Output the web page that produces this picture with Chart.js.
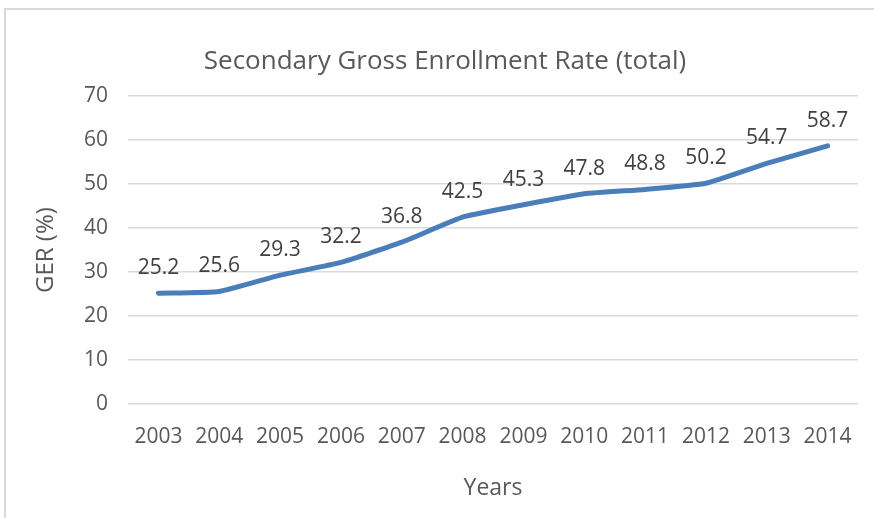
<!DOCTYPE html>
<html>
<head>
<meta charset="utf-8">
<script src="https://cdn.jsdelivr.net/npm/chart.js@4"></script>
<style>
    html, body { margin: 0; padding: 0; background: #fff; }
    #frame {
        position: absolute;
        left: 0; top: 0;
        width: 874px; height: 518px;
    }
    #box {
        position: absolute;
        left: 4px; top: 8px;
        width: 880px; height: 520px;
        border-left: 2px solid #d9d9d9;
        border-top: 2px solid #d9d9d9;
    }
    canvas { position: absolute; left: 0; top: 0; }
</style>
</head>
<body>
<div id="frame">
    <div id="box"></div>
    <canvas id="gerChart" width="874" height="518"></canvas>
</div>
<script>
const years = ['2003', '2004', '2005', '2006', '2007', '2008', '2009', '2010', '2011', '2012', '2013', '2014'];
const gerTotal = [25.2, 25.6, 29.3, 32.2, 36.8, 42.5, 45.3, 47.8, 48.8, 50.2, 54.7, 58.7];
const yTicks = [0, 10, 20, 30, 40, 50, 60, 70];

const fontFamily = '"Open Sans", "Liberation Sans", sans-serif';
const textColor = '#595959';

// value labels sitting above each point
const pointLabels = {
    id: 'pointLabels',
    afterDatasetsDraw(chart) {
        const ctx = chart.ctx;
        const meta = chart.getDatasetMeta(0);
        ctx.save();
        ctx.font = '21px ' + fontFamily;
        ctx.fillStyle = '#404040';
        ctx.textAlign = 'center';
        ctx.textBaseline = 'middle';
        meta.data.forEach(function (pt, i) {
            ctx.fillText(gerTotal[i].toFixed(1), pt.x, pt.y - 25);
        });
        ctx.restore();
    }
};

new Chart(document.getElementById('gerChart').getContext('2d'), {
    type: 'line',
    data: {
        labels: years,
        datasets: [{
            label: 'GER',
            data: gerTotal,
            borderColor: '#4a7ebb',
            borderWidth: 5,
            borderCapStyle: 'round',
            pointRadius: 0,
            tension: 0.15,
            fill: false
        }]
    },
    options: {
        responsive: false,
        animation: false,
        layout: { padding: { left: 32, right: 16, top: 46, bottom: 14 } },
        plugins: {
            legend: { display: false },
            tooltip: { enabled: false },
            title: {
                display: true,
                text: 'Secondary Gross Enrollment Rate (total)',
                color: textColor,
                font: { family: fontFamily, size: 26, weight: 'normal' },
                padding: { top: 0, bottom: 19 }
            }
        },
        scales: {
            x: {
                offset: true,
                grid: { display: false },
                border: { display: false },
                ticks: {
                    color: textColor,
                    font: { family: fontFamily, size: 21 },
                    maxRotation: 0,
                    padding: 12
                },
                title: {
                    display: true,
                    text: 'Years',
                    color: textColor,
                    font: { family: fontFamily, size: 23 },
                    padding: { top: 18, bottom: 2 }
                },
                afterFit(scale) { scale.height = 100; }
            },
            y: {
                min: 0,
                max: 70,
                afterBuildTicks(scale) {
                    scale.ticks = yTicks.map(function (v) { return { value: v }; });
                },
                grid: { color: '#d9d9d9', lineWidth: 1.5, drawTicks: false },
                border: { display: false },
                ticks: {
                    color: textColor,
                    font: { family: fontFamily, size: 21 },
                    padding: 20
                },
                title: {
                    display: true,
                    text: 'GER (%)',
                    color: textColor,
                    font: { family: fontFamily, size: 24 },
                    padding: { top: 0, bottom: 0 }
                },
                afterFit(scale) { scale.width = 96; }
            }
        }
    },
    plugins: [pointLabels]
});
</script>
</body>
</html>
